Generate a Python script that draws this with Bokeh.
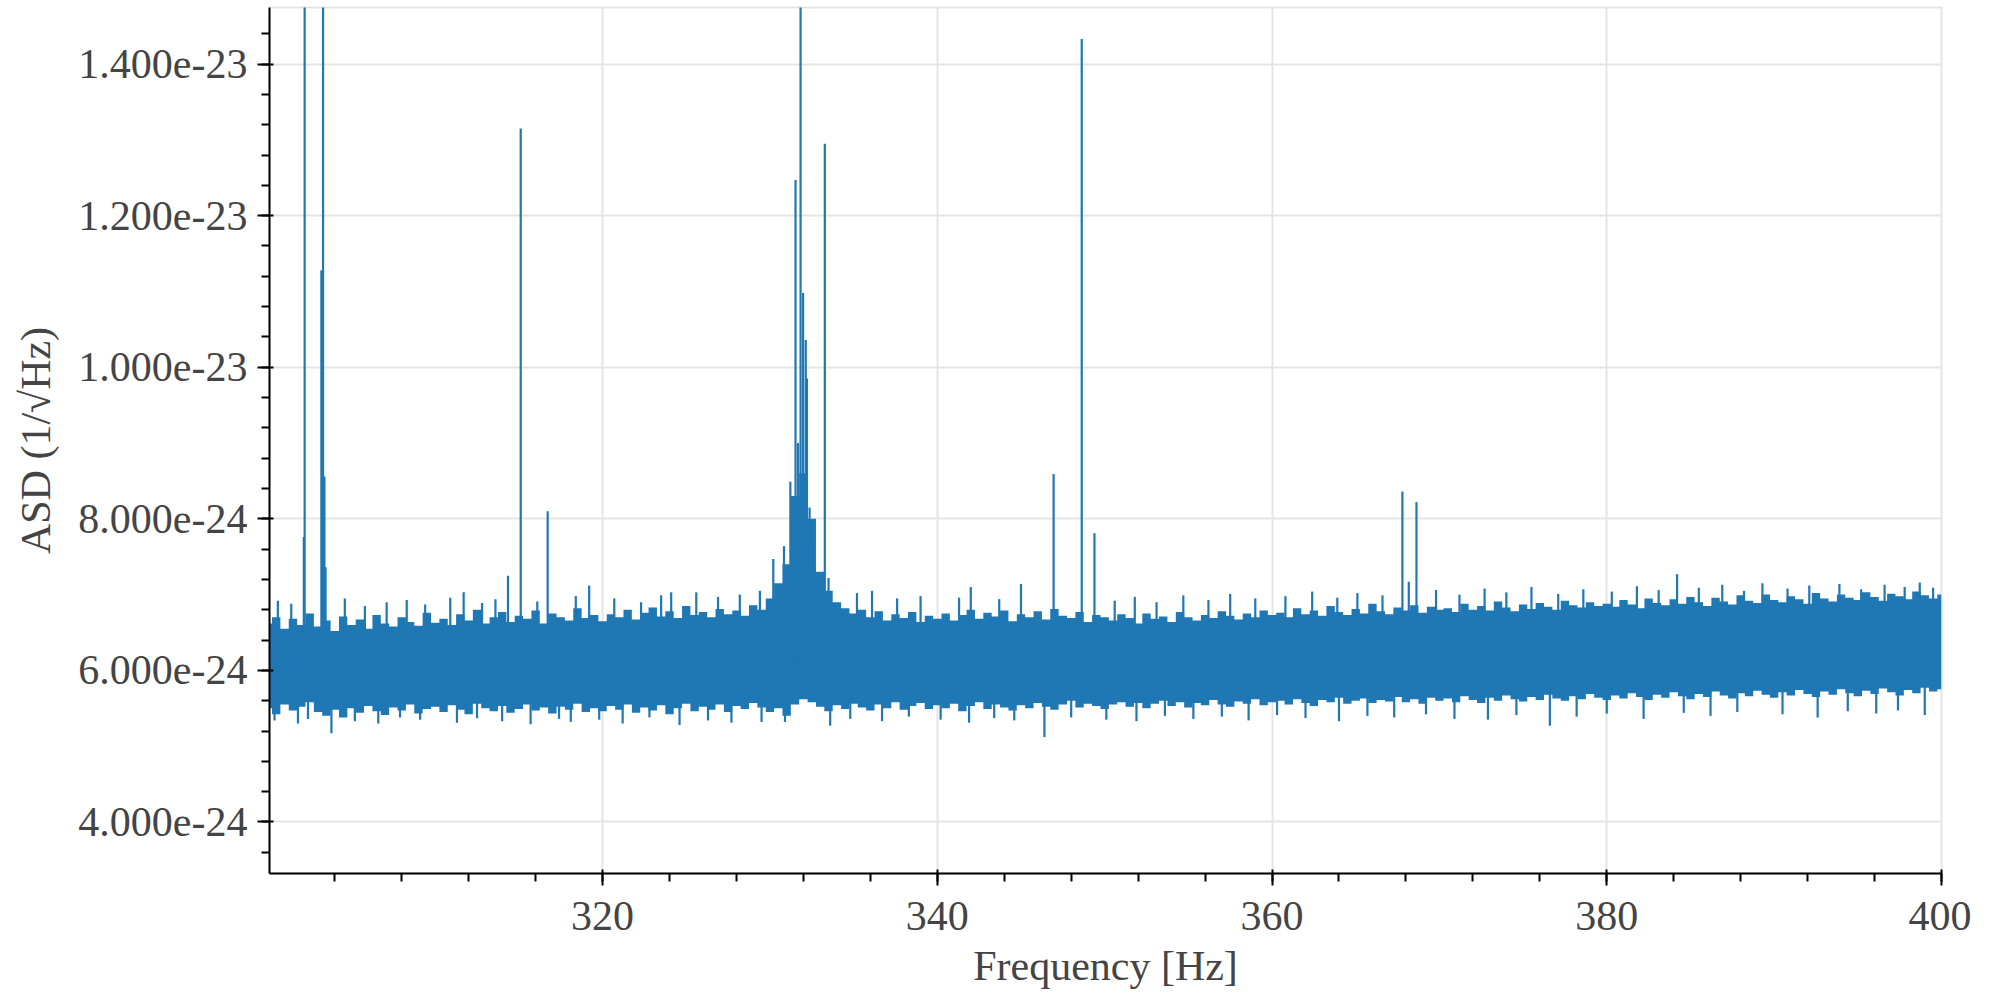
from bokeh.plotting import figure
from bokeh.models import Range1d, SingleIntervalTicker, PrintfTickFormatter
from bokeh.embed import file_html
from bokeh.resources import INLINE

UNIT = 1e-24          # values below are in units of 1e-24 1/sqrt(Hz)
BLUE = "#1f77b4"

# noise band envelope, sampled every 0.5 Hz from 300.0 to 400.0 Hz
env_start = 300.0
env_step = 0.5
env_top = [
    6.62, 6.70, 6.55, 6.68, 6.60, 6.75, 6.58, 6.66, 6.52, 6.71,
    6.60, 6.67, 6.55, 6.73, 6.62, 6.58, 6.70, 6.64, 6.59, 6.76,
    6.63,
    6.68, 6.60, 6.74, 6.66, 6.80, 6.62, 6.70, 6.77, 6.64, 6.72,
    6.68, 6.79, 6.62, 6.75, 6.70, 6.66, 6.82, 6.69, 6.73, 6.65,
    6.74, 6.70, 6.80, 6.67, 6.76, 6.83, 6.71, 6.78, 6.69, 6.85,
    6.73, 6.77, 6.70, 6.81, 6.74, 6.79, 6.72, 6.86, 6.80, 6.95,
    7.15, 7.40, 8.30, 8.60, 8.00, 7.30, 7.05, 6.90, 6.82, 6.75,
    6.80, 6.70, 6.78, 6.66, 6.74, 6.69, 6.77, 6.64, 6.72, 6.68,
    6.75, 6.66, 6.73, 6.80, 6.68, 6.76, 6.71, 6.79, 6.65, 6.74,
    6.70, 6.78, 6.67, 6.81, 6.72, 6.69, 6.77, 6.64, 6.73, 6.70,
    6.66, 6.74, 6.69, 6.62, 6.75, 6.68, 6.71, 6.64, 6.77, 6.70,
    6.66, 6.73, 6.69, 6.78, 6.72, 6.67, 6.75, 6.70, 6.79, 6.73,
    6.76, 6.70, 6.82, 6.74, 6.79, 6.72, 6.85, 6.77, 6.73, 6.81,
    6.75, 6.88, 6.78, 6.74, 6.83, 6.79, 6.86, 6.76, 6.84, 6.80,
    6.82, 6.77, 6.88, 6.80, 6.85, 6.79, 6.91, 6.83, 6.78, 6.87,
    6.81, 6.89, 6.84, 6.80, 6.92, 6.86, 6.83, 6.90, 6.85, 6.88,
    6.84, 6.93, 6.87, 6.82, 6.95, 6.89, 6.86, 6.94, 6.88, 6.97,
    6.90, 6.85, 6.96, 6.91, 6.87, 6.99, 6.92, 6.89, 7.00, 6.93,
    6.90, 6.98, 6.94, 6.88, 7.02, 6.95, 6.91, 7.00, 6.96, 6.93,
    7.03, 6.97, 6.92, 7.01, 6.98, 6.94, 7.04, 6.99, 6.95, 7.00,
]
env_bottom = [
    5.50, 5.42, 5.55, 5.47, 5.52, 5.58, 5.45, 5.40, 5.48, 5.38,
    5.50, 5.44, 5.53, 5.46, 5.41, 5.51, 5.47, 5.55, 5.43, 5.49,
    5.52,
    5.45, 5.54, 5.48, 5.42, 5.56, 5.50, 5.46, 5.53, 5.44, 5.49,
    5.55, 5.47, 5.51, 5.43, 5.52, 5.48, 5.56, 5.45, 5.50, 5.46,
    5.53, 5.48, 5.55, 5.44, 5.51, 5.47, 5.54, 5.42, 5.50, 5.56,
    5.46, 5.52, 5.48, 5.55, 5.45, 5.53, 5.49, 5.57, 5.51, 5.45,
    5.50, 5.40, 5.55, 5.62, 5.58, 5.52, 5.46, 5.54, 5.49, 5.56,
    5.51, 5.47, 5.55, 5.50, 5.58, 5.48, 5.53, 5.57, 5.49, 5.54,
    5.50, 5.56, 5.46, 5.53, 5.58, 5.49, 5.55, 5.51, 5.47, 5.54,
    5.50, 5.57, 5.52, 5.48, 5.55, 5.60, 5.51, 5.56, 5.53, 5.49,
    5.55, 5.58, 5.52, 5.57, 5.50, 5.56, 5.60, 5.53, 5.58, 5.51,
    5.57, 5.54, 5.61, 5.55, 5.52, 5.59, 5.56, 5.62, 5.54, 5.58,
    5.60, 5.55, 5.62, 5.57, 5.53, 5.61, 5.58, 5.64, 5.56, 5.60,
    5.63, 5.57, 5.61, 5.59, 5.65, 5.58, 5.62, 5.56, 5.64, 5.60,
    5.63, 5.58, 5.66, 5.61, 5.57, 5.64, 5.60, 5.67, 5.62, 5.59,
    5.65, 5.61, 5.68, 5.63, 5.60, 5.66, 5.62, 5.69, 5.64, 5.61,
    5.67, 5.63, 5.70, 5.65, 5.61, 5.68, 5.64, 5.71, 5.66, 5.62,
    5.69, 5.65, 5.72, 5.67, 5.63, 5.70, 5.66, 5.73, 5.68, 5.64,
    5.71, 5.67, 5.74, 5.69, 5.65, 5.72, 5.68, 5.75, 5.70, 5.66,
    5.73, 5.69, 5.76, 5.71, 5.67, 5.74, 5.70, 5.77, 5.72, 5.75,
]

# narrow lines (spectral peaks) rising out of the noise
peak_freq = [302.15, 302.2, 303.2, 303.3, 303.38, 303.45, 314.35, 315.11, 316.72,
             330.2, 330.84, 331.22, 331.37, 331.53, 331.68, 331.83, 331.98, 332.14,
             332.21, 332.37, 332.6, 332.9, 333.28, 333.5, 346.95, 348.63, 349.39,
             367.79, 368.17, 368.63, 384.2]
peak_asd = [7.76, 25.0, 11.28, 25.0, 8.56, 7.36, 7.25, 13.15, 8.10,
            7.47, 7.64, 8.49, 8.15, 12.47, 9.0, 15.5, 10.98, 10.36,
            9.85, 8.15, 7.64, 7.14, 12.95, 7.22, 8.59, 14.33, 7.81,
            8.36, 7.17, 8.22, 7.27]

# small upward noise excursions above the band
up_freq = [300.6, 301.4, 304.6, 305.8, 307.1, 308.3, 309.4, 310.9, 311.7, 312.8,
           313.6, 316.1, 318.4, 319.2, 320.7, 322.3, 323.5, 324.1, 325.6, 326.9,
           328.2, 329.4, 335.2, 336.1, 337.6, 339.0, 341.3, 342.0, 343.7, 345.0,
           350.6, 351.8, 353.1, 354.7, 356.2, 357.5, 359.0, 360.8, 362.4, 363.9,
           365.1, 366.6, 369.8, 371.2, 372.7, 374.0, 375.5, 377.1, 378.6, 380.3,
           381.8, 383.1, 385.5, 386.9, 388.2, 389.3, 390.8, 392.1, 393.9, 395.2,
           396.6, 397.8, 398.7, 399.5]
up_asd = [6.92, 6.88, 6.95, 6.85, 6.90, 6.93, 6.87, 6.96, 7.03, 6.89,
          6.94, 6.91, 6.98, 7.12, 6.95, 6.90, 6.99, 7.03, 7.03, 6.97,
          7.00, 7.05, 7.02, 7.05, 6.95, 6.98, 6.96, 7.10, 6.94, 7.14,
          6.92, 6.97, 6.90, 6.99, 6.93, 7.01, 6.95, 6.98, 7.04, 6.96,
          7.02, 6.99, 7.06, 7.00, 7.08, 7.03, 7.10, 7.01, 7.07, 7.04,
          7.11, 7.06, 7.09, 7.13, 7.05, 7.15, 7.08, 7.12, 7.14, 7.07,
          7.13, 7.10, 7.16, 7.09]

# small downward noise excursions below the band
down_freq = [300.4, 301.8, 302.4, 303.8, 305.2, 306.6, 307.9, 309.1, 311.3, 312.5,
             314.0, 315.7, 317.4, 318.1, 319.8, 321.2, 322.8, 324.6, 326.3, 327.7,
             329.5, 330.9, 333.6, 334.8, 336.7, 338.3, 340.2, 341.9, 343.4, 344.6,
             346.4, 348.0, 350.1, 351.9, 353.6, 355.3, 357.0, 358.6, 360.3, 362.0,
             364.0, 365.7, 367.3, 369.2, 370.9, 372.9, 374.6, 376.6, 378.2, 380.0,
             382.2, 384.6, 386.2, 387.8, 390.5, 392.6, 394.4, 396.1, 397.4, 399.0]
down_asd = [5.34, 5.30, 5.36, 5.17, 5.33, 5.30, 5.38, 5.35, 5.31, 5.37,
            5.33, 5.29, 5.36, 5.32, 5.35, 5.30, 5.38, 5.28, 5.34, 5.31,
            5.32, 5.32, 5.27, 5.36, 5.33, 5.39, 5.35, 5.31, 5.37, 5.34,
            5.12, 5.38, 5.35, 5.33, 5.40, 5.36, 5.39, 5.34, 5.41, 5.37,
            5.33, 5.40, 5.38, 5.42, 5.36, 5.35, 5.41, 5.27, 5.39, 5.43,
            5.36, 5.44, 5.40, 5.45, 5.42, 5.38, 5.46, 5.43, 5.47, 5.41]

band_mid = 6.1  # level inside the band where the excursions start

x_lo, x_hi = 300.1, 400.0
y_lo, y_hi = 3.32, 14.747

env_freq = [env_start + env_step * i for i in range(len(env_top))]

FONT = "Liberation Serif"

p = figure(frame_width=1672, frame_height=866,
           output_backend="svg", toolbar_location=None,
           x_range=Range1d(x_lo, x_hi), y_range=Range1d(y_lo * UNIT, y_hi * UNIT),
           min_border_left=269, min_border_right=30, min_border_top=7,
           min_border_bottom=100)

p.varea_step(x=env_freq, y1=[v * UNIT for v in env_bottom],
             y2=[v * UNIT for v in env_top], step_mode="center",
             fill_color=BLUE, fill_alpha=1.0)

def spikes(freqs, vals):
    p.segment(x0=freqs, y0=[band_mid * UNIT] * len(freqs),
              x1=freqs, y1=[v * UNIT for v in vals],
              line_color=BLUE, line_width=2.2)

spikes(up_freq, up_asd)
spikes(down_freq, down_asd)
spikes(peak_freq, peak_asd)

p.xaxis.ticker = SingleIntervalTicker(interval=20, num_minor_ticks=5)
p.yaxis.ticker = SingleIntervalTicker(interval=2e-24, num_minor_ticks=5)
p.yaxis.formatter = PrintfTickFormatter(format="%.3e")

p.xaxis.axis_label = "Frequency [Hz]"
p.yaxis.axis_label = "ASD (1/√Hz)"

for ax in (p.xaxis[0], p.yaxis[0]):
    ax.axis_line_width = 2
    ax.major_tick_line_width = 2
    ax.minor_tick_line_width = 2
    ax.major_tick_out = 12
    ax.major_tick_in = 4
    ax.minor_tick_out = 8
    ax.minor_tick_in = 0
    ax.major_label_text_font = FONT
    ax.major_label_text_font_size = "42px"
    ax.major_label_text_color = "#444444"
    ax.major_label_standoff = 10
    ax.axis_label_text_font = FONT
    ax.axis_label_text_font_size = "42px"
    ax.axis_label_text_font_style = "normal"
    ax.axis_label_text_color = "#444444"

p.xaxis.major_label_standoff = 16
p.xaxis.axis_label_standoff = 10
p.yaxis.axis_label_standoff = 16

p.grid.grid_line_color = "#e5e5e5"
p.grid.grid_line_width = 2
p.outline_line_color = "#e5e5e5"
p.outline_line_width = 2

open("out.html", "w").write(file_html(p, INLINE))
